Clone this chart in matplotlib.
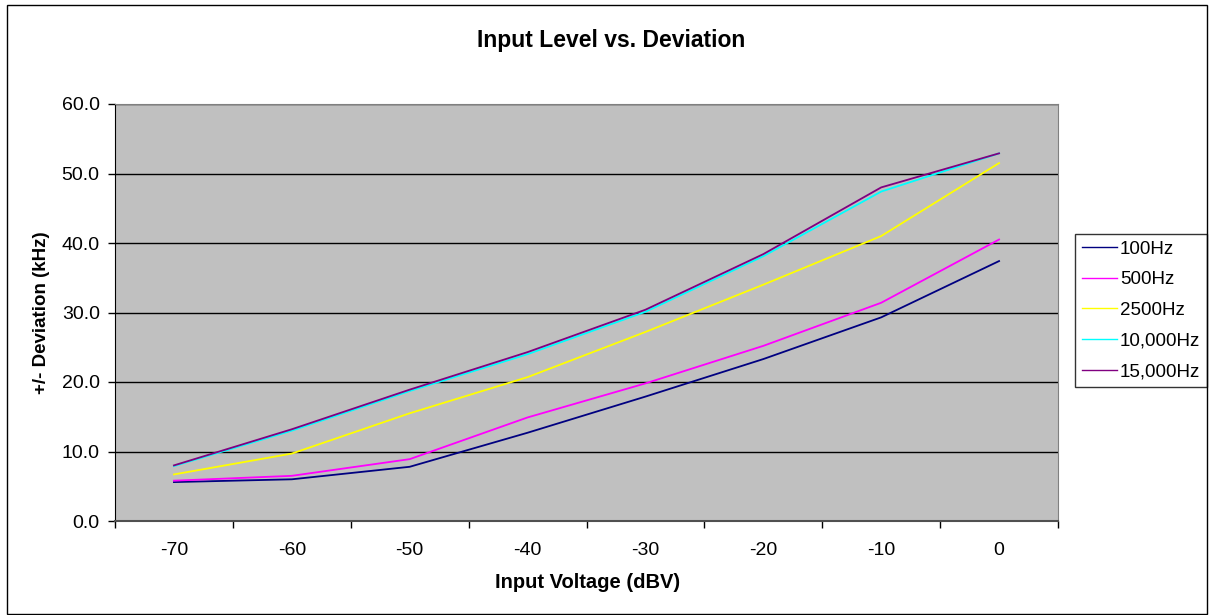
import matplotlib.pyplot as plt
from matplotlib.patches import Rectangle
from matplotlib.ticker import FormatStrFormatter

# input level (dBV) categories and measured deviation per tone frequency
levels = ['-70', '-60', '-50', '-40', '-30', '-20', '-10', '0']
dev_100 = [5.6, 6.0, 7.8, 12.7, 17.9, 23.3, 29.3, 37.4]
dev_500 = [5.8, 6.5, 8.9, 14.9, 19.8, 25.2, 31.4, 40.5]
dev_2500 = [6.7, 9.7, 15.5, 20.7, 27.2, 34.0, 41.0, 51.5]
dev_10k = [7.9, 13.0, 18.7, 24.0, 30.1, 38.1, 47.4, 52.9]
dev_15k = [8.0, 13.2, 18.9, 24.3, 30.4, 38.4, 48.0, 52.9]

series = [
    ('100Hz', dev_100, '#000080'),
    ('500Hz', dev_500, '#FF00FF'),
    ('2500Hz', dev_2500, '#FFFF00'),
    ('10,000Hz', dev_10k, '#00FFFF'),
    ('15,000Hz', dev_15k, '#800080'),
]

plt.rcParams['font.family'] = ['Liberation Sans', 'DejaVu Sans']

fig = plt.figure(figsize=(12.09, 6.15), dpi=100)
fig.patches.append(Rectangle((7 / 1209, 1 - 614 / 615), 1200 / 1209, 609 / 615,
                             transform=fig.transFigure, fill=False,
                             edgecolor='black', linewidth=1.0))

ax = fig.add_axes([115 / 1209, 1 - 521 / 615, 943 / 1209, 417 / 615])
ax.set_facecolor('#C0C0C0')

x = [i + 0.5 for i in range(len(levels))]
for name, vals, col in series:
    ax.plot(x, vals, color=col, linewidth=1.3, label=name)

ax.set_xlim(0, len(levels))
ax.set_ylim(0, 60)
ax.set_yticks(range(0, 61, 10))
ax.yaxis.set_major_formatter(FormatStrFormatter('%.1f'))
ax.grid(axis='y', color='black', linewidth=1.0)
ax.set_axisbelow(True)

# ticks between categories, labels centred on each category
ax.set_xticks(range(len(levels) + 1))
ax.set_xticklabels([])
ax.set_xticks(x, minor=True)
ax.set_xticklabels(levels, minor=True)
ax.tick_params(axis='x', which='major', length=5, direction='out', width=1)
ax.tick_params(axis='x', which='minor', length=0, pad=15, labelsize=14)
ax.tick_params(axis='y', length=5, direction='out', width=1, pad=6, labelsize=14)

ax.spines['left'].set_color('black')
ax.spines['bottom'].set_color('#505050')
ax.spines['bottom'].set_linewidth(1.5)
ax.spines['top'].set_color('#808080')
ax.spines['right'].set_color('#808080')

fig.text(611 / 1209, 1 - 40 / 615, 'Input Level vs. Deviation', ha='center', va='center',
         fontsize=16.5, fontweight='bold')
fig.text(588 / 1209, 1 - 582 / 615, 'Input Voltage (dBV)', ha='center', va='center',
         fontsize=14.5, fontweight='bold')
fig.text(42 / 1209, 1 - 313 / 615, '+/- Deviation (kHz)', ha='center', va='center',
         rotation=90, fontsize=13.5, fontweight='bold')

leg = ax.legend(loc='upper left', bbox_to_anchor=(1075 / 1209, 1 - 234 / 615),
                bbox_transform=fig.transFigure, fontsize=13.5, frameon=True,
                fancybox=False, shadow=False, handlelength=1.9, handletextpad=0.15,
                labelspacing=0.72, borderpad=0.35, borderaxespad=0)
leg.get_frame().set_edgecolor('black')
leg.get_frame().set_linewidth(1.0)
for h in leg.get_lines():
    h.set_linewidth(1.0)

fig.savefig('out.png', dpi=100)
